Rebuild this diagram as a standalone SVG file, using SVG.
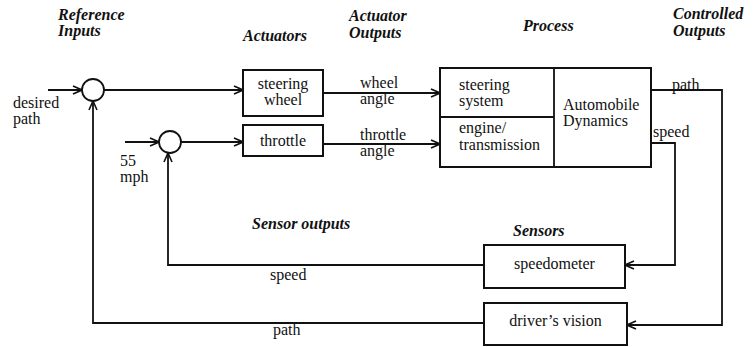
<svg xmlns="http://www.w3.org/2000/svg" width="756" height="347" viewBox="0 0 756 347" font-family="'Liberation Serif', 'DejaVu Serif', 'Noto Serif', serif">
<style>
  text { font-size: 16px; fill: #111; }
  .h { font-weight: bold; font-style: italic; }
  .box { fill: #fff; stroke: #111; stroke-width: 2; }
  .sum { fill: #fff; stroke: #111; stroke-width: 1.8; }
  .ln { fill: none; stroke: #111; stroke-width: 1.8; }
  .ar { marker-end: url(#arr); }
</style>
<defs>
  <marker id="arr" viewBox="0 0 10 10" refX="10" refY="5" markerWidth="10" markerHeight="10" markerUnits="userSpaceOnUse" orient="auto">
    <path d="M1,1 L10,5 L1,9" fill="none" stroke="#111" stroke-width="1.6"/>
  </marker>
</defs>
<rect width="756" height="347" fill="#fff"/>

<g id="headings">
  <text class="h" x="58" y="20">Reference</text>
  <text class="h" x="58" y="36">Inputs</text>
  <text class="h" x="243" y="41">Actuators</text>
  <text class="h" x="349" y="21">Actuator</text>
  <text class="h" x="349" y="38">Outputs</text>
  <text class="h" x="523" y="31">Process</text>
  <text class="h" x="673" y="19">Controlled</text>
  <text class="h" x="673" y="36">Outputs</text>
  <text class="h" x="252" y="229">Sensor outputs</text>
  <text class="h" x="513" y="236">Sensors</text>
</g>

<g id="connectors">
  <path class="ln ar" d="M48,90 H82"/>
  <path class="ln ar" d="M104,90 H243"/>
  <path class="ln ar" d="M125,142 H159"/>
  <path class="ln ar" d="M181,142 H243"/>
  <path class="ln ar" d="M323,93 H440"/>
  <path class="ln ar" d="M323,144 H440"/>
  <path class="ln ar" d="M651,90 H722 V325 H627"/>
  <path class="ln ar" d="M651,143 H675 V265 H625"/>
  <path class="ln ar" d="M484,265 H168 V153"/>
  <path class="ln ar" d="M484,323 H93 V101"/>
</g>

<g id="labels">
  <text x="13" y="108">desired</text>
  <text x="13" y="124">path</text>
  <text x="120" y="166">55</text>
  <text x="120" y="182">mph</text>
  <text x="360" y="88">wheel</text>
  <text x="360" y="104">angle</text>
  <text x="360" y="140">throttle</text>
  <text x="360" y="156">angle</text>
  <text x="672" y="90">path</text>
  <text x="653" y="137">speed</text>
  <text x="270" y="280">speed</text>
  <text x="273" y="335">path</text>
</g>

<g id="sum1"><circle class="sum" cx="93" cy="90" r="11"/></g>
<g id="sum2"><circle class="sum" cx="170" cy="142" r="11"/></g>

<g id="steering-wheel">
  <rect class="box" x="243" y="70" width="80" height="46"/>
  <text x="283" y="89" text-anchor="middle">steering</text>
  <text x="283" y="105" text-anchor="middle">wheel</text>
</g>

<g id="throttle">
  <rect class="box" x="243" y="125" width="80" height="31"/>
  <text x="283" y="146" text-anchor="middle">throttle</text>
</g>

<g id="process">
  <rect class="box" x="440" y="68" width="211" height="99"/>
  <path class="ln" d="M554,68 V167 M440,117 H554"/>
  <text x="459" y="90">steering</text>
  <text x="459" y="106">system</text>
  <text x="459" y="133">engine/</text>
  <text x="459" y="150">transmission</text>
  <text x="563" y="110">Automobile</text>
  <text x="563" y="126">Dynamics</text>
</g>

<g id="speedometer">
  <rect class="box" x="484" y="245" width="141" height="43"/>
  <text x="554.5" y="269" text-anchor="middle">speedometer</text>
</g>

<g id="drivers-vision">
  <rect class="box" x="484" y="303" width="143" height="42"/>
  <text x="555.5" y="326" text-anchor="middle">driver’s vision</text>
</g>
</svg>
